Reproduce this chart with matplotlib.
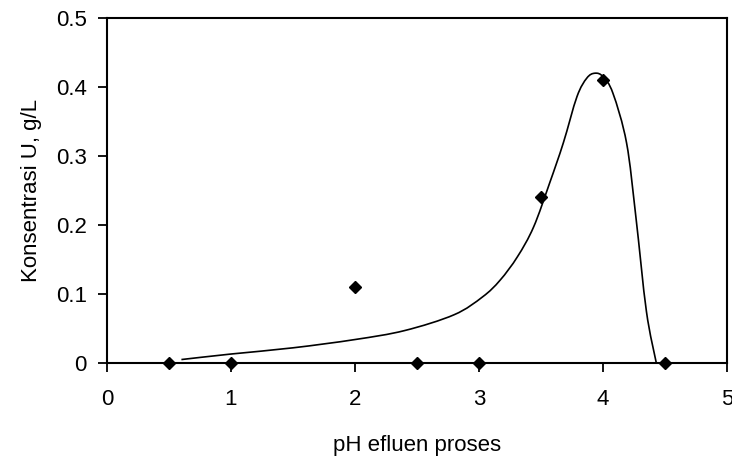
import matplotlib
matplotlib.use("Agg")
import matplotlib.pyplot as plt
from matplotlib.path import Path
from matplotlib.patches import PathPatch

plt.rcParams['font.family'] = ['Liberation Sans', 'DejaVu Sans']

# measured points
ph_points = [0.5, 1.0, 2.0, 2.5, 3.0, 3.5, 4.0, 4.5]
conc_points = [0.0, 0.0, 0.11, 0.0, 0.0, 0.24, 0.41, 0.0]

# smoothed trend line
curve_x = [0.6, 1.0, 1.5, 2.0, 2.4, 2.8, 3.03, 3.17, 3.31, 3.44, 3.57, 3.68,
           3.79, 3.87, 3.935, 4.0, 4.08, 4.19, 4.265, 4.35, 4.43]
curve_y = [0.005, 0.013, 0.022, 0.034, 0.047, 0.070, 0.096, 0.12, 0.154, 0.197,
           0.261, 0.319, 0.386, 0.413, 0.42, 0.415, 0.391, 0.319, 0.212, 0.075, 0.0]

x_ticks = [0, 1, 2, 3, 4, 5]
y_ticks = [0, 0.1, 0.2, 0.3, 0.4, 0.5]
y_tick_labels = ['0', '0.1', '0.2', '0.3', '0.4', '0.5']

fig = plt.figure(figsize=(7.32, 4.61), dpi=100)
ax = fig.add_axes([107/732, 98/461, 620/732, 345/461])

# smooth curve via Catmull-Rom -> cubic Bezier path
pts = list(zip(curve_x, curve_y))
verts = [pts[0]]
codes = [Path.MOVETO]
n = len(pts)
for i in range(n - 1):
    p0 = pts[i - 1] if i > 0 else pts[i]
    p1 = pts[i]
    p2 = pts[i + 1]
    p3 = pts[i + 2] if i + 2 < n else pts[i + 1]
    c1 = (p1[0] + (p2[0] - p0[0]) / 6, p1[1] + (p2[1] - p0[1]) / 6)
    c2 = (p2[0] - (p3[0] - p1[0]) / 6, p2[1] - (p3[1] - p1[1]) / 6)
    verts += [c1, c2, p2]
    codes += [Path.CURVE4] * 3
patch = PathPatch(Path(verts, codes), facecolor='none', edgecolor='black',
                  lw=1.2, transform=ax.transData, zorder=3)
ax.add_patch(patch)

ax.plot(ph_points, conc_points, linestyle='none', marker='D', ms=6.5,
        color='black', zorder=4, clip_on=False)

ax.set_xlim(0, 5)
ax.set_ylim(0, 0.5)
ax.set_xticks(x_ticks)
ax.set_xticklabels([str(t) for t in x_ticks])
ax.set_yticks(y_ticks)
ax.set_yticklabels(y_tick_labels)
ax.tick_params(direction='out', length=6.5, width=1.3, labelsize=16,
               colors='black')
ax.tick_params(axis='x', pad=12)
ax.tick_params(axis='y', pad=8)
for s in ax.spines.values():
    s.set_linewidth(1.5)
    s.set_color('black')

ax.set_xlabel('pH efluen proses', fontsize=16, labelpad=18)
ax.set_ylabel('Konsentrasi U, g/L', fontsize=16, labelpad=10)

fig.savefig('out.png', dpi=100)
